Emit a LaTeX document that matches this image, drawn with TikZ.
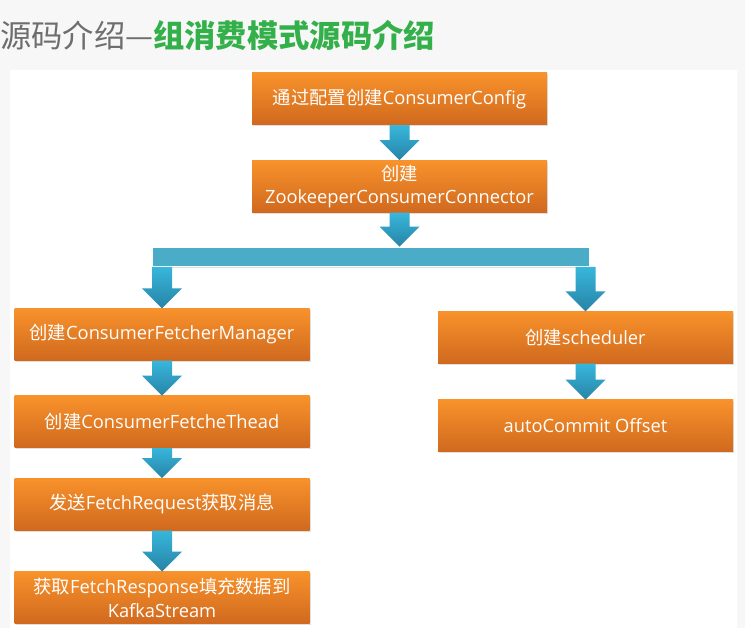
\documentclass[tikz,border=0pt]{standalone}
\usepackage{fontspec}
\setmainfont{Open Sans}
\newfontfamily\cjk{Noto Sans CJK SC}
\usetikzlibrary{positioning,calc,shadows}

\definecolor{boxtop}{HTML}{F8922B}
\definecolor{boxbot}{HTML}{D0691E}
\definecolor{arrowtop}{HTML}{38B6DC}
\definecolor{arrowbot}{HTML}{2784A6}
\definecolor{barblue}{HTML}{4AACC6}
\definecolor{titlegray}{HTML}{6E6E6E}
\definecolor{titlegreen}{HTML}{34B04A}
\definecolor{pagegray}{HTML}{F7F7F7}

\newcommand\zh[1]{{\cjk #1}}
\newcommand\boxfont{\fontsize{18.3}{23.5}\selectfont}
% block arrow down from #2 to #3, on the vertical line of #1
\newcommand\flowdown[3]{%
  \path[flowarrow] let \p1=(#2.south -| #1), \p2=(#3.north -| #1) in
    (\x1-10pt,\y1) -- (\x1+10pt,\y1) -- (\x1+10pt,\y2+20pt) -- (\x1+20pt,\y2+20pt)
    -- (\x1,\y2) -- (\x1-20pt,\y2+20pt) -- (\x1-10pt,\y2+20pt) -- cycle;}

\begin{document}
\begin{tikzpicture}[
  x=1pt, y=1pt,
  box/.style={minimum width=295pt, minimum height=52pt, inner sep=2pt,
              align=center, text=white, font=\boxfont,
              top color=boxtop, bottom color=boxbot,
              drop shadow={opacity=0.25, shadow xshift=1pt, shadow yshift=-1.5pt}},
  bar/.style={minimum width=438pt, minimum height=19pt, inner sep=0pt,
              fill=barblue, draw=white, line width=1.2pt,
              drop shadow={opacity=0.25, shadow xshift=1pt, shadow yshift=-1.5pt}},
  flowarrow/.style={top color=arrowtop, bottom color=arrowbot},
]
  \useasboundingbox (0,0) rectangle (745,-628);
  \fill[pagegray] (0,0) rectangle (745,-628);
  \fill[white] (10,-70) rectangle (737,-628);

  % title
  \node[anchor=west, inner sep=0pt] (title) at (0,-35)
    {\cjk\fontsize{31.3}{32}\selectfont\textcolor{titlegray}{源码介绍—}\textcolor{titlegreen}{\bfseries 组消费模式源码介绍}};

  % top chain
  \node[box] (config) at (399.5,-99) {\zh{通过配置创建}ConsumerConfig};
  \node[box, below=35pt of config] (connector) {\zh{创建}\\ZookeeperConsumerConnector};
  \node[bar, below=34pt of connector, xshift=-28.5pt] (bar) {};

  % fetcher side
  \node[box] (fetchmgr) at (162,-334.5) {\zh{创建}ConsumerFetcherManager};
  \node[box, below=35pt of fetchmgr] (fetchthread) {\zh{创建}ConsumerFetcheThead};
  \node[box, below=30pt of fetchthread] (request) {\zh{发送}FetchRequest\zh{获取消息}};
  \node[box, below=41pt of request] (response) {\zh{获取}FetchResponse\zh{填充数据到}\\KafkaStream};

  % commit side
  \node[box] (scheduler) at (585.5,-337.5) {\zh{创建}scheduler};
  \node[box, below=36pt of scheduler] (commit) {autoCommit Offset};

  \flowdown{config}{config}{connector}
  \flowdown{connector}{connector}{bar}
  \flowdown{fetchmgr}{bar}{fetchmgr}
  \flowdown{scheduler}{bar}{scheduler}
  \flowdown{fetchmgr}{fetchmgr}{fetchthread}
  \flowdown{fetchmgr}{fetchthread}{request}
  \flowdown{fetchmgr}{request}{response}
  \flowdown{scheduler}{scheduler}{commit}
\end{tikzpicture}
\end{document}
